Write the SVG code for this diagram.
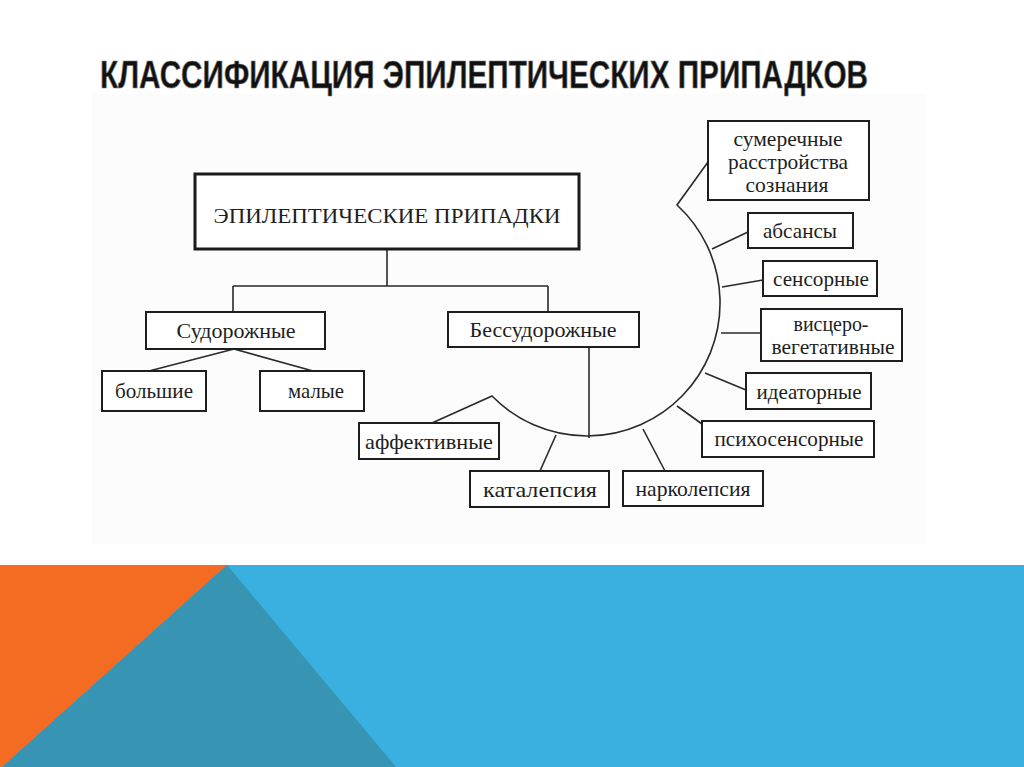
<svg xmlns="http://www.w3.org/2000/svg" width="1024" height="767" viewBox="0 0 1024 767">
<style>
.box{fill:#fff;stroke:#1e1e1e;stroke-width:2}
.main{fill:#fff;stroke:#1a1a1a;stroke-width:3}
.lbl{font-family:"Liberation Serif","Times New Roman",serif;font-size:21px;fill:#1e1e1e;text-anchor:middle}
.con{fill:none;stroke:#2a2a2a;stroke-width:1.6}
.title{font-family:"Liberation Sans",Arial,sans-serif;font-weight:bold;font-size:38px;fill:#111;stroke:#7a7a7a;stroke-width:0.7}
</style>
<rect x="0" y="0" width="1024" height="767" fill="#ffffff"/>
<rect x="92" y="94" width="834" height="450" fill="#fcfcfc"/>
<g id="band">
<rect x="0" y="565" width="1024" height="202" fill="#3ab0e0"/>
<polygon points="0,565 227,565 2,767 0,767" fill="#f36c21"/>
<polygon points="227,565 396,767 2,767" fill="#3794b3"/>
</g>
<text class="title" x="100" y="88" textLength="768" lengthAdjust="spacingAndGlyphs">КЛАССИФИКАЦИЯ ЭПИЛЕПТИЧЕСКИХ ПРИПАДКОВ</text>
<g id="connectors">
<path class="con" d="M387,249 V286 M233,286 H548 M233,286 V313 M548,286 V312"/>
<path class="con" d="M234,349 L149,371 M234,349 L313,371"/>
<path class="con" d="M589,347 V438"/>
<path class="con" d="M432,423 L492,396 A133,133 0 1 0 677,205 L708,162"/>
<path class="con" d="M556,435 L540,471 M643,429 L665,471 M677,406 L702,424 M705,373 L746,390 M721,333 H761 M722,287 L763,280 M712,249 L748,232"/>
</g>
<g id="n-root"><rect class="main" x="195" y="174" width="384" height="75"/><text class="lbl" x="387" y="223" font-size="21" textLength="347" lengthAdjust="spacingAndGlyphs">ЭПИЛЕПТИЧЕСКИЕ ПРИПАДКИ</text></g>
<g id="n-sudor"><rect class="box" x="146" y="312" width="179" height="37"/><text class="lbl" x="236" y="338" textLength="119" lengthAdjust="spacingAndGlyphs">Судорожные</text></g>
<g id="n-bessudor"><rect class="box" x="448" y="312" width="191" height="35"/><text class="lbl" x="543" y="337" textLength="147" lengthAdjust="spacingAndGlyphs">Бессудорожные</text></g>
<g id="n-bolshie"><rect class="box" x="102" y="371" width="104" height="40"/><text class="lbl" x="154" y="398" textLength="78" lengthAdjust="spacingAndGlyphs">большие</text></g>
<g id="n-malye"><rect class="box" x="260" y="371" width="104" height="40"/><text class="lbl" x="316" y="398" textLength="56" lengthAdjust="spacingAndGlyphs">малые</text></g>
<g id="n-affekt"><rect class="box" x="359" y="423" width="140" height="36"/><text class="lbl" x="429" y="449" textLength="128" lengthAdjust="spacingAndGlyphs">аффективные</text></g>
<g id="n-katapl"><rect class="box" x="470" y="471" width="139" height="36"/><text class="lbl" x="540" y="497" textLength="114" lengthAdjust="spacingAndGlyphs">каталепсия</text></g>
<g id="n-narko"><rect class="box" x="623" y="471" width="140" height="35"/><text class="lbl" x="693" y="496" textLength="115" lengthAdjust="spacingAndGlyphs">нарколепсия</text></g>
<g id="n-psycho"><rect class="box" x="702" y="421" width="172" height="36"/><text class="lbl" x="789" y="446" textLength="149" lengthAdjust="spacingAndGlyphs">психосенсорные</text></g>
<g id="n-ideat"><rect class="box" x="746" y="373" width="125" height="36"/><text class="lbl" x="809" y="399" textLength="105" lengthAdjust="spacingAndGlyphs">идеаторные</text></g>
<g id="n-viscero"><rect class="box" x="761" y="309" width="141" height="52"/><text class="lbl" x="831" y="331" textLength="75" lengthAdjust="spacingAndGlyphs">висцеро-</text><text class="lbl" x="833" y="354" textLength="123" lengthAdjust="spacingAndGlyphs">вегетативные</text></g>
<g id="n-sensor"><rect class="box" x="763" y="261" width="114" height="35"/><text class="lbl" x="821" y="286" textLength="96" lengthAdjust="spacingAndGlyphs">сенсорные</text></g>
<g id="n-absans"><rect class="box" x="748" y="213" width="105" height="35"/><text class="lbl" x="800" y="238" textLength="74" lengthAdjust="spacingAndGlyphs">абсансы</text></g>
<g id="n-sumer"><rect class="box" x="708" y="121" width="161" height="79"/><text class="lbl" x="788" y="146" textLength="109" lengthAdjust="spacingAndGlyphs">сумеречные</text><text class="lbl" x="788" y="169" textLength="120" lengthAdjust="spacingAndGlyphs">расстройства</text><text class="lbl" x="787" y="192" textLength="83" lengthAdjust="spacingAndGlyphs">сознания</text></g>
</svg>
